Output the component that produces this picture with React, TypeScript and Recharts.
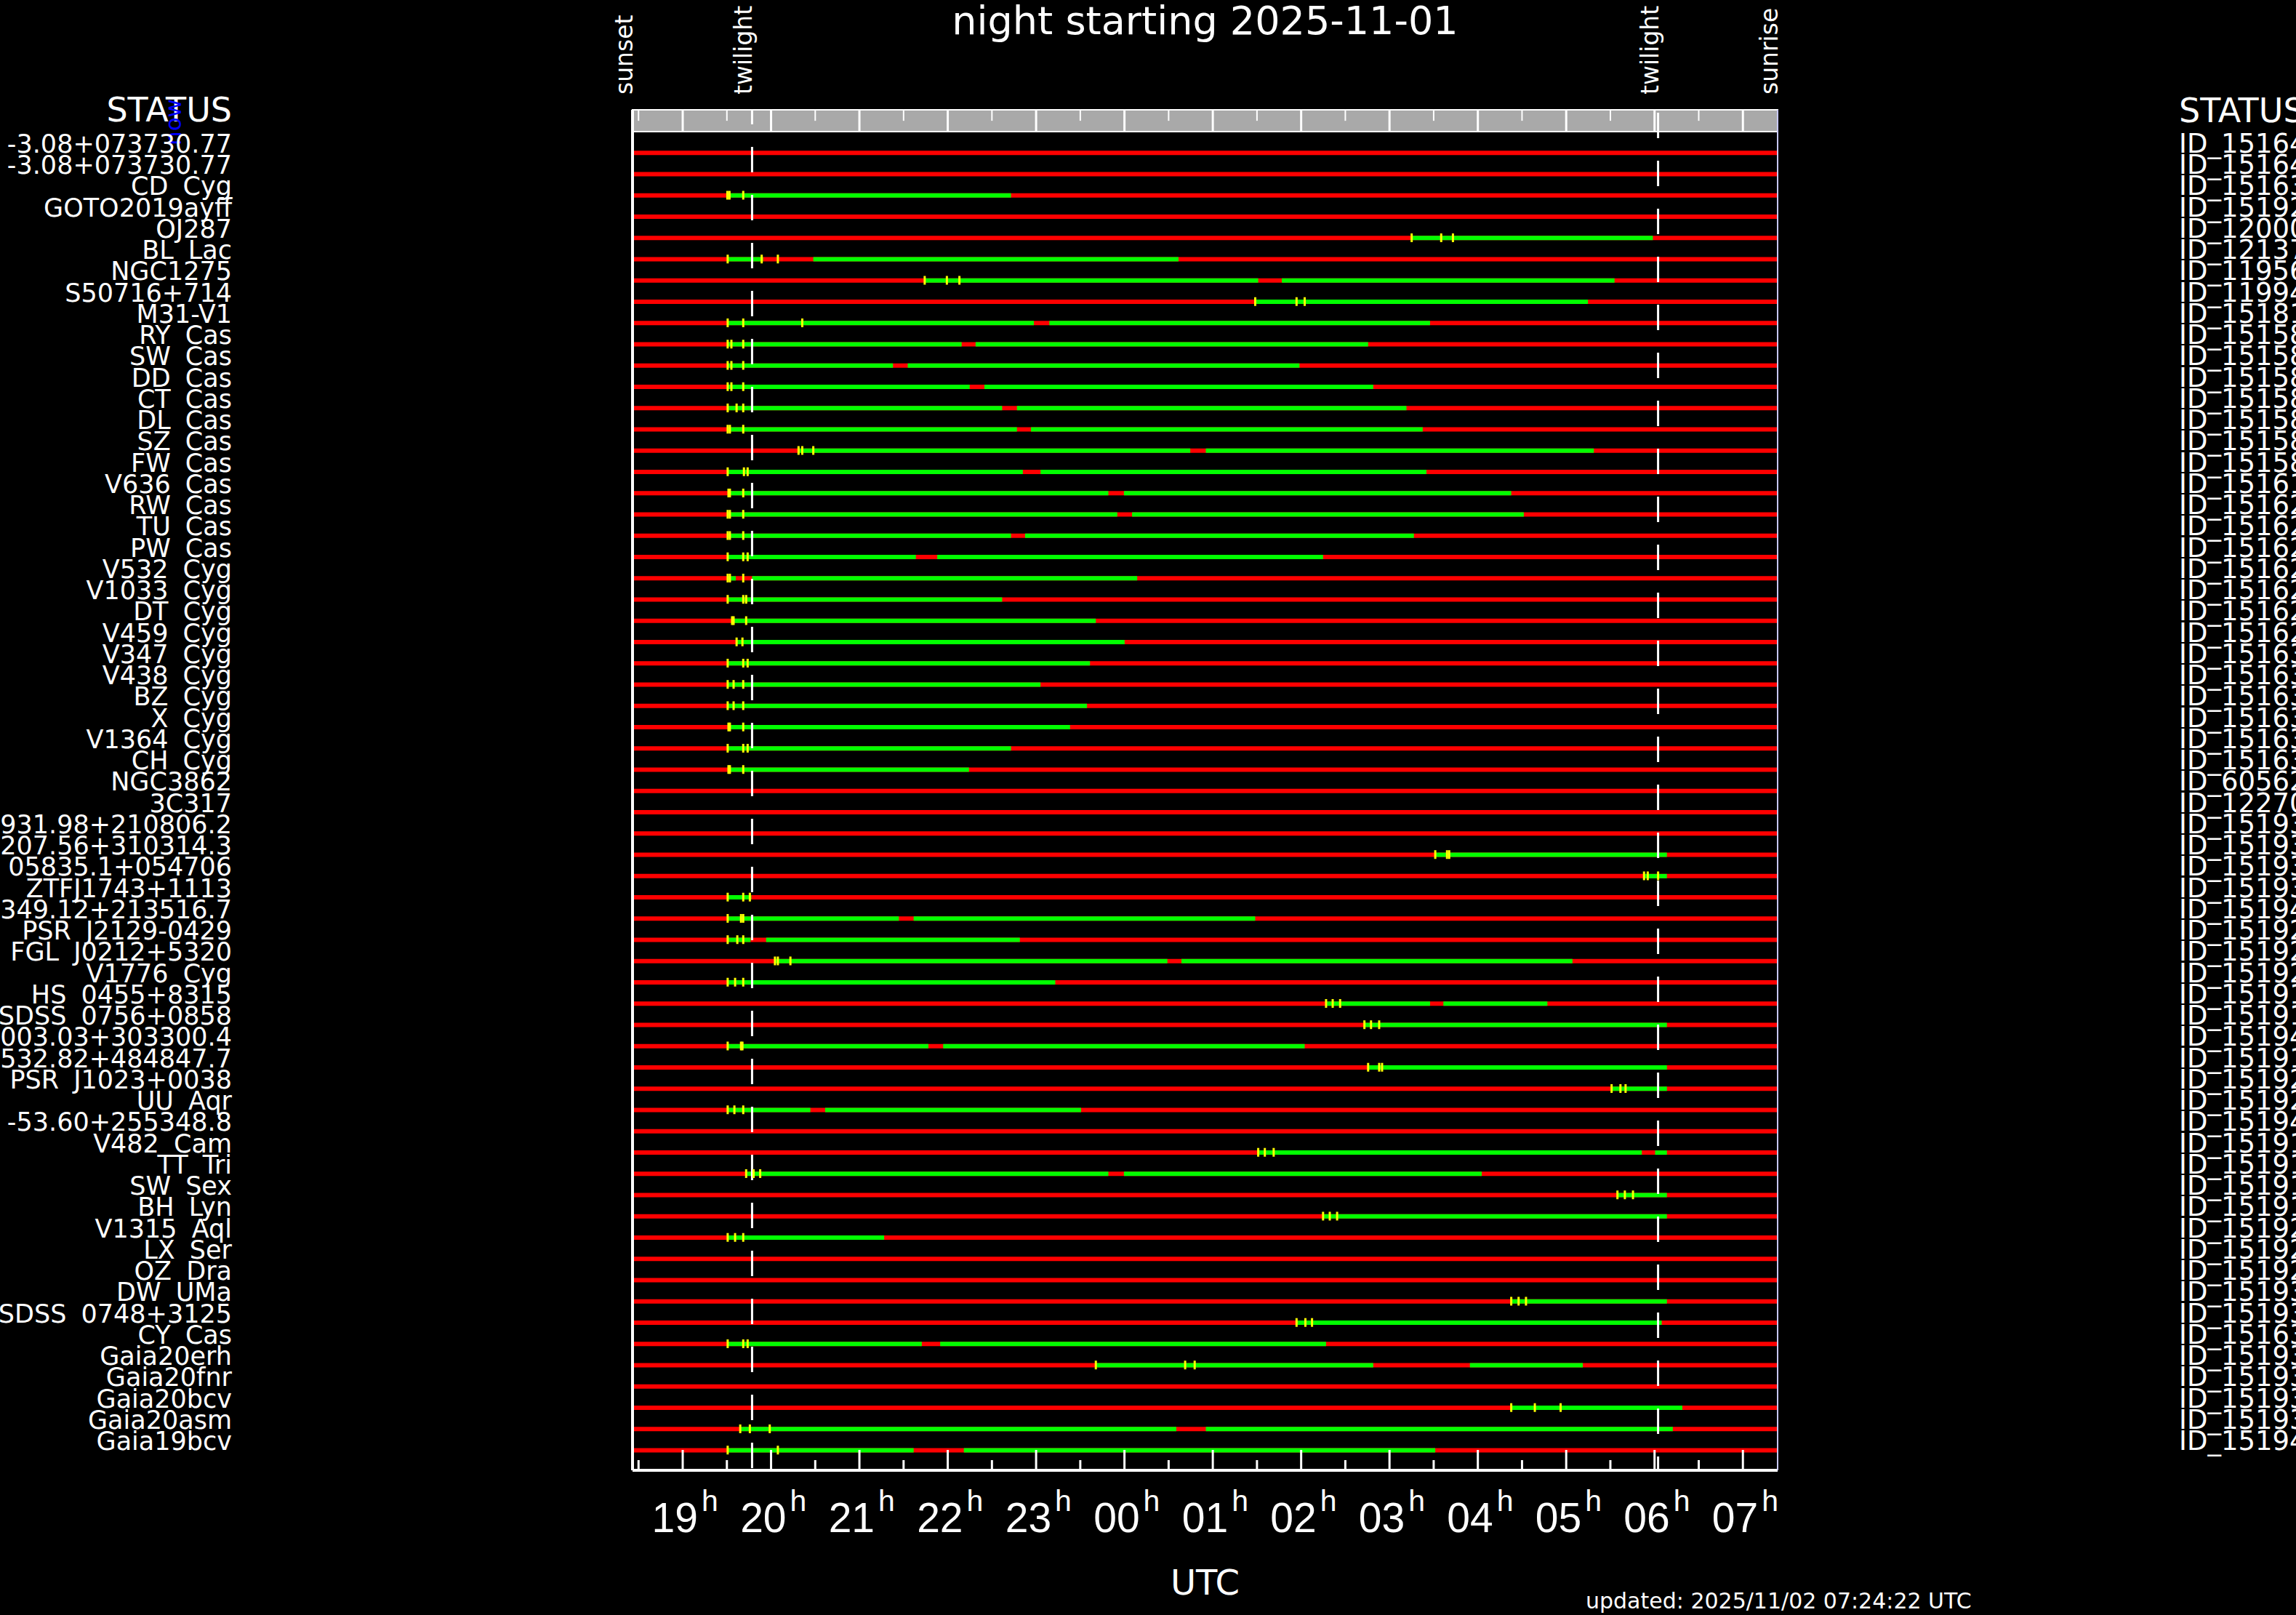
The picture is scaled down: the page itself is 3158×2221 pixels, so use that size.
import React from 'react';
import { ComposedChart, Bar, Cell, Scatter, XAxis, YAxis, ReferenceArea, ReferenceLine } from 'recharts';

// ---------------- data ----------------
const NAMES = [
  '-3.08+073730.77', '-3.08+073730.77', 'CD Cyg', 'GOTO2019ayff', 'OJ287', 'BL Lac', 'NGC1275', 'S50716+714', 'M31-V1',
  'RY Cas', 'SW Cas', 'DD Cas', 'CT Cas', 'DL Cas', 'SZ Cas', 'FW Cas', 'V636 Cas', 'RW Cas', 'TU Cas', 'PW Cas',
  'V532 Cyg', 'V1033 Cyg', 'DT Cyg', 'V459 Cyg', 'V347 Cyg', 'V438 Cyg', 'BZ Cyg', 'X Cyg', 'V1364 Cyg', 'CH Cyg',
  'NGC3862', '3C317', '931.98+210806.2', '207.56+310314.3', '05835.1+054706', 'ZTFJ1743+1113', '349.12+213516.7',
  'PSR J2129-0429', 'FGL J0212+5320', 'V1776 Cyg', 'HS 0455+8315', 'SDSS 0756+0858', '003.03+303300.4', '532.82+484847.7',
  'PSR J1023+0038', 'UU Aqr', '-53.60+255348.8', 'V482 Cam', 'TT Tri', 'SW Sex', 'BH Lyn', 'V1315 Aql', 'LX Ser', 'OZ Dra',
  'DW UMa', 'SDSS 0748+3125', 'CY Cas', 'Gaia20erh', 'Gaia20fnr', 'Gaia20bcv', 'Gaia20asm', 'Gaia19bcv',
];

const IDS = [
  'ID_151644', 'ID_151645', 'ID_151632', 'ID_151923', 'ID_120006', 'ID_121372', 'ID_119561', 'ID_119944', 'ID_151811',
  'ID_151583', 'ID_151584', 'ID_151585', 'ID_151586', 'ID_151587', 'ID_151588', 'ID_151589', 'ID_151610', 'ID_151623',
  'ID_151624', 'ID_151625', 'ID_151626', 'ID_151627', 'ID_151628', 'ID_151629', 'ID_151630', 'ID_151631', 'ID_151633',
  'ID_151634', 'ID_151635', 'ID_151636', 'ID_605621', 'ID_122700', 'ID_151932', 'ID_151933', 'ID_151934', 'ID_151935',
  'ID_151941', 'ID_151921', 'ID_151922', 'ID_151924', 'ID_151911', 'ID_151912', 'ID_151942', 'ID_151913', 'ID_151925',
  'ID_151926', 'ID_151943', 'ID_151914', 'ID_151915', 'ID_151916', 'ID_151917', 'ID_151927', 'ID_151928', 'ID_151929',
  'ID_151936', 'ID_151937', 'ID_151637', 'ID_151938', 'ID_151939', 'ID_151930', 'ID_151931', 'ID_151940',
];

// observable (green) windows per target, UTC hours (24+ = after midnight)
const GREEN: number[][][] = [
  [], [], [[19.505, 22.716]], [], [[27.251, 29.981]],
  [[19.509, 19.91], [20.478, 24.612]],
  [[21.739, 25.514], [25.781, 29.547]],
  [[25.48, 29.246]],
  [[19.509, 22.975], [23.15, 27.459]],
  [[19.509, 22.157], [22.315, 26.758]],
  [[19.509, 21.38], [21.547, 25.981]],
  [[19.509, 22.248], [22.415, 26.816]],
  [[19.509, 22.616], [22.783, 27.192]],
  [[19.509, 22.783], [22.942, 27.376]],
  [[20.311, 24.745], [24.921, 29.313]],
  [[19.509, 22.85], [23.05, 27.418]],
  [[19.518, 23.818], [23.994, 28.378]],
  [[19.509, 23.919], [24.086, 28.52]],
  [[19.509, 22.716], [22.875, 27.276]],
  [[19.509, 21.639], [21.881, 26.248]],
  [[19.509, 19.601], [19.785, 24.144]],
  [[19.509, 22.616]],
  [[19.559, 23.676]],
  [[19.61, 24.002]],
  [[19.509, 23.61]],
  [[19.509, 23.05]],
  [[19.509, 23.576]],
  [[19.518, 23.384]],
  [[19.509, 22.716]],
  [[19.518, 22.24]],
  [], [], [],
  [[27.518, 30.14]],
  [[29.881, 30.14]],
  [[19.509, 19.777]],
  [[19.509, 21.447], [21.614, 25.48]],
  [[19.509, 19.768], [19.944, 22.816]],
  [[20.044, 24.486], [24.645, 29.071]],
  [[19.509, 23.217]],
  [[26.282, 27.459], [27.61, 28.787]],
  [[26.716, 30.14]],
  [[19.509, 21.781], [21.948, 26.04]],
  [[26.758, 30.14]],
  [[29.514, 30.14]],
  [[19.509, 20.445], [20.612, 23.509]],
  [],
  [[25.514, 29.856], [30.006, 30.14]],
  [[19.718, 23.818], [23.994, 28.044]],
  [[29.58, 30.14]],
  [[26.248, 30.14]],
  [[19.509, 21.28]],
  [], [],
  [[28.378, 30.14]],
  [[25.948, 30.081]],
  [[19.509, 21.706], [21.914, 26.282]],
  [[23.676, 26.816], [27.91, 29.188]],
  [],
  [[28.378, 30.315]],
  [[19.651, 24.587], [24.921, 30.207]],
  [[19.509, 21.614], [22.182, 27.518]],
];

// yellow markers per target, UTC hours
const MARKS: number[][] = [
  [], [], [19.505, 19.53, 19.685], [], [27.251, 27.585, 27.718],
  [19.509, 19.894, 20.077],
  [21.739, 21.99, 22.132],
  [25.48, 25.948, 26.04],
  [19.509, 19.685, 20.353],
  [19.509, 19.551, 19.685],
  [19.509, 19.551, 19.685],
  [19.509, 19.551, 19.685],
  [19.509, 19.61, 19.685],
  [19.509, 19.534, 19.685],
  [20.311, 20.353, 20.478],
  [19.509, 19.693, 19.735],
  [19.518, 19.534, 19.685],
  [19.509, 19.534, 19.685],
  [19.509, 19.534, 19.685],
  [19.509, 19.685, 19.735],
  [19.509, 19.534, 19.685],
  [19.509, 19.685, 19.718],
  [19.559, 19.576, 19.718],
  [19.61, 19.676],
  [19.509, 19.685, 19.735],
  [19.509, 19.576, 19.685],
  [19.509, 19.576, 19.685],
  [19.518, 19.534, 19.685],
  [19.509, 19.685, 19.735],
  [19.518, 19.534, 19.685],
  [], [], [],
  [27.518, 27.651, 27.676],
  [29.881, 29.923, 30.04],
  [19.509, 19.685, 19.76],
  [19.509, 19.66, 19.685],
  [19.509, 19.618, 19.685],
  [20.044, 20.077, 20.219],
  [19.509, 19.593, 19.685],
  [26.282, 26.357, 26.441],
  [26.716, 26.791, 26.883],
  [19.509, 19.66, 19.676],
  [26.758, 26.883, 26.916],
  [29.514, 29.614, 29.672],
  [19.509, 19.585, 19.685],
  [],
  [25.514, 25.589, 25.689],
  [19.718, 19.802, 19.877],
  [29.58, 29.664, 29.756],
  [26.248, 26.324, 26.407],
  [19.509, 19.593, 19.685],
  [], [],
  [28.378, 28.461, 28.545],
  [25.948, 26.048, 26.123],
  [19.509, 19.685, 19.735],
  [23.676, 24.687, 24.795],
  [],
  [28.378, 28.645, 28.937],
  [19.651, 19.76, 19.985],
  [19.509, 20.077],
];

const SUNSET = 18.432;
const SUNRISE = 31.393;
const TWILIGHTS = [19.785, 30.04];
const EVENT_NAMES = ['sunset', 'twilight', 'twilight', 'sunrise'];
const EVENT_TIMES = [SUNSET, 19.785, 30.04, SUNRISE];

const HOURS = [19, 20, 21, 22, 23, 24, 25, 26, 27, 28, 29, 30, 31];
const HOUR_LABELS = ['19', '20', '21', '22', '23', '00', '01', '02', '03', '04', '05', '06', '07'];
const HALF_HOURS = [18.5, 19.5, 20.5, 21.5, 22.5, 23.5, 24.5, 25.5, 26.5, 27.5, 28.5, 29.5, 30.5];

const TITLE = 'night starting 2025-11-01';
const UPDATED = 'updated: 2025/11/02 07:24:22 UTC';

// ---------------- derived tables ----------------
const ROWS = NAMES.map((_, i) => i);
const RED = '#ff0000';
const GRN = '#00ff00';
const YEL = '#ffff00';

const SEGMENTS = [
  ...ROWS.map((r) => ({ row: r, seg: [SUNSET, SUNRISE], fill: RED })),
  ...ROWS.flatMap((r) => GREEN[r].map((g) => ({ row: r, seg: g, fill: GRN }))),
];
const MARK_POINTS = ROWS.flatMap((r) => MARKS[r].map((t) => ({ row: r, t })));
const TIME_TICKS = [...HALF_HOURS, ...HOURS].sort((a, b) => a - b);

// ---------------- layout ----------------
const W = 3158;
const H = 2221;
const Y_TOP = -2.017;
const Y_BOTTOM = 61.95;
const GREY_BOTTOM = -0.991;
const GREY_TICK = -1.5;
const DASH_OFFSETS = [15, 62];
const FONT = 'DejaVu Sans';
const AXIS_FONT = 'Liberation Sans';

const NameTick = (p: any) => (
  <text x={p.x} y={p.y} textAnchor="end" fill="#fff" fontSize={35} fontFamily={FONT} wordSpacing={9}>
    {NAMES[p.payload.value]}
  </text>
);

const IdTick = (p: any) => (
  <text x={p.x} y={p.y} textAnchor="start" fill="#fff" fontSize={37} fontFamily={FONT}>
    {IDS[p.payload.value]}
  </text>
);

const EventTick = (p: any) => {
  const i = EVENT_TIMES.indexOf(p.payload.value);
  return (
    <text x={p.x} y={p.y} transform={`rotate(-90 ${p.x} ${p.y})`} fill="#fff" fontSize={33} fontFamily={FONT}>
      {EVENT_NAMES[i]}
    </text>
  );
};

const TimeTick = (p: any) => {
  const v = p.payload.value;
  const hi = HOURS.indexOf(v);
  const isHour = hi >= 0;
  return (
    <g>
      <line x1={p.x} y1={p.y} x2={p.x} y2={p.y - (isHour ? 28 : 14)} stroke="#fff" strokeWidth={3} />
      {isHour && (
        <>
          <text x={p.x + 21} y={p.y + 85} textAnchor="end" fill="#fff" fontSize={57} fontFamily={AXIS_FONT}>
            {HOUR_LABELS[hi]}
          </text>
          <text x={p.x + 26} y={p.y + 56} textAnchor="start" fill="#fff" fontSize={41} fontFamily={AXIS_FONT}>
            h
          </text>
        </>
      )}
    </g>
  );
};

const TickMark = (p: any) => <rect x={p.cx - 1.5} y={p.cy - 6} width={3} height={12} fill={YEL} />;

const TitleLabel = (p: any) => {
  const { x, y, width } = p.viewBox;
  return (
    <text x={x + width / 2} y={y - 74} textAnchor="middle" fill="#fff" fontSize={54} fontFamily={FONT}>
      {TITLE}
    </text>
  );
};

const BottomLabel = (p: any) => {
  const { x, y, width } = p.viewBox;
  return (
    <g>
      <text x={x + width / 2} y={y + 171} textAnchor="middle" fill="#fff" fontSize={48} fontFamily={FONT}>
        UTC
      </text>
      <text x={x + 1311} y={y + 190} textAnchor="start" fill="#fff" fontSize={30} fontFamily={FONT}>
        {UPDATED}
      </text>
    </g>
  );
};

const LeftHeader = (p: any) => {
  const { x, y, width } = p.viewBox;
  const nx = x + width - 621;
  const ny = y + 49;
  return (
    <g>
      <text x={x + width - 551} y={y + 16} textAnchor="end" fill="#fff" fontSize={46} fontFamily={FONT}>
        STATUS
      </text>
      <text x={nx} y={ny} transform={`rotate(-90 ${nx} ${ny})`} fill="#0000ff" fontSize={31} fontFamily={FONT}>
        now
      </text>
    </g>
  );
};

const RightHeader = (p: any) => {
  const { x, y } = p.viewBox;
  return (
    <text x={x + 552} y={y + 17} textAnchor="start" fill="#fff" fontSize={46} fontFamily={FONT}>
      STATUS
    </text>
  );
};

export default function App() {
  return (
    <div style={{ position: 'absolute', left: 0, top: 0, width: W, height: H, background: '#000', overflow: 'hidden' }}>
      <ComposedChart
        width={W}
        height={H}
        data={SEGMENTS}
        layout="vertical"
        margin={{ top: 121, right: 0, bottom: 0, left: 0 }}
      >
        <XAxis
          type="number"
          domain={[SUNSET, SUNRISE]}
          allowDataOverflow
          ticks={TIME_TICKS}
          interval={0}
          height={199}
          tickSize={0}
          tickMargin={0}
          tickLine={false}
          axisLine={{ stroke: '#fff', strokeWidth: 4 }}
          tick={TimeTick}
          label={BottomLabel}
        />
        <XAxis
          xAxisId="events"
          orientation="top"
          type="number"
          domain={[SUNSET, SUNRISE]}
          allowDataOverflow
          ticks={EVENT_TIMES}
          interval={0}
          height={30}
          tickSize={0}
          tickMargin={21}
          tickLine={false}
          axisLine={false}
          tick={EventTick}
          label={TitleLabel}
        />
        <YAxis
          type="number"
          dataKey="row"
          domain={[Y_TOP, Y_BOTTOM]}
          allowDataOverflow
          ticks={ROWS}
          interval={0}
          width={870}
          tickSize={0}
          tickMargin={551}
          tickLine={false}
          axisLine={{ stroke: '#fff', strokeWidth: 4 }}
          tick={NameTick}
          label={LeftHeader}
        />
        <YAxis
          yAxisId="right"
          orientation="right"
          type="number"
          dataKey="row"
          domain={[Y_TOP, Y_BOTTOM]}
          allowDataOverflow
          ticks={ROWS}
          interval={0}
          width={713}
          tickSize={0}
          tickMargin={552}
          tickLine={false}
          axisLine={{ stroke: '#c8c8ff', strokeWidth: 2 }}
          tick={IdTick}
          label={RightHeader}
        />
        <ReferenceArea
          x1={SUNSET}
          x2={SUNRISE}
          y1={Y_TOP}
          y2={GREY_BOTTOM}
          fill="#a9a9a9"
          fillOpacity={1}
          stroke="#fff"
          strokeWidth={2}
          ifOverflow="visible"
        />
        {HOURS.map((h) => (
          <ReferenceLine
            key={`h${h}`}
            segment={[{ x: h, y: Y_TOP }, { x: h, y: GREY_BOTTOM }]}
            stroke="#fff"
            strokeWidth={3}
            ifOverflow="visible"
          />
        ))}
        {HALF_HOURS.map((h) => (
          <ReferenceLine
            key={`hh${h}`}
            segment={[{ x: h, y: Y_TOP }, { x: h, y: GREY_TICK }]}
            stroke="#fff"
            strokeWidth={2}
            ifOverflow="visible"
          />
        ))}
        <Bar dataKey="seg" barSize={6} isAnimationActive={false}>
          {SEGMENTS.map((s, i) => (
            <Cell key={i} fill={s.fill} />
          ))}
        </Bar>
        {TWILIGHTS.map((t, i) => (
          <ReferenceLine
            key={`tw${i}`}
            segment={[{ x: t, y: Y_TOP }, { x: t, y: Y_BOTTOM }]}
            stroke="#fff"
            strokeWidth={3}
            strokeDasharray="35 31"
            strokeDashoffset={DASH_OFFSETS[i]}
            ifOverflow="visible"
          />
        ))}
        <Scatter data={MARK_POINTS} dataKey="t" shape={TickMark} isAnimationActive={false} />
      </ComposedChart>
    </div>
  );
}
